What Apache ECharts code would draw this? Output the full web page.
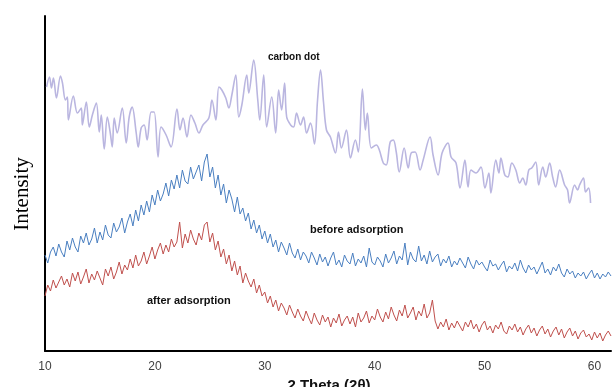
<!DOCTYPE html>
<html>
<head>
<meta charset="utf-8">
<script src="https://cdn.jsdelivr.net/npm/echarts@6/dist/echarts.min.js"></script>
<style>html,body{margin:0;padding:0;background:#fff}#chart{width:614px;height:387px}</style>
</head>
<body>
<div id="chart"></div>
<script>
// x tick labels
const xTicks = [10, 20, 30, 40, 50, 60];

// carbon dot trace (2θ, intensity a.u.)
const carbonTheta = [10.14,10.41,10.59,10.77,11.04,11.41,11.59,11.86,12.04,12.13,12.58,12.95,13.31,13.40,13.76,14.03,14.31,14.67,14.94,15.12,15.39,15.67,15.94,16.12,16.30,16.57,17.03,17.39,17.66,17.93,18.30,18.48,18.75,19.02,19.29,19.66,19.93,20.29,20.56,21.02,21.47,22.01,22.28,22.56,22.92,23.28,23.64,24.01,24.37,24.91,25.19,25.55,25.82,26.09,26.45,26.73,27.00,27.36,27.63,27.91,28.36,28.54,28.99,29.36,29.54,29.90,30.17,30.63,30.99,31.26,31.53,31.80,31.99,32.35,32.62,32.89,33.25,33.53,33.80,34.16,34.52,34.80,35.07,35.34,35.61,35.97,36.43,36.70,36.97,37.43,37.79,38.24,38.51,38.88,39.15,39.33,39.69,40.15,40.42,40.78,41.05,41.41,41.69,41.96,42.23,42.68,43.05,43.32,43.68,44.13,44.41,45.04,45.31,45.77,46.13,46.67,46.95,47.40,47.76,48.21,48.49,48.76,49.21,49.67,50.03,50.39,50.57,51.02,51.30,51.48,51.84,52.11,52.48,52.84,53.20,53.47,53.74,54.02,54.29,54.65,54.92,55.29,55.56,55.92,56.19,56.46,56.83,57.28,57.55,57.73,58.19,58.46,58.64,59.00,59.18,59.46,59.64];
const carbonI = [264,274,263,273,253,275,268,251,254,231,255,238,243,226,249,224,236,248,219,236,202,234,218,204,233,218,243,208,234,244,218,204,223,226,211,239,239,194,224,216,204,242,221,233,214,236,228,218,226,233,251,231,264,261,253,243,256,276,234,246,276,258,291,251,231,276,224,254,218,261,241,268,234,226,224,238,226,234,218,228,207,251,281,249,221,214,198,219,203,221,193,211,199,262,221,238,203,206,201,188,186,209,211,199,179,203,183,198,199,181,191,214,196,176,198,208,194,188,163,191,164,181,178,184,163,178,158,191,178,193,176,174,188,181,168,173,166,181,183,189,166,184,174,188,174,164,181,166,161,148,166,161,166,173,159,163,148];

// before / after adsorption scans, sampled every 0.25°
const twoTheta = [
10.00,10.25,10.50,10.75, 11.00,11.25,11.50,11.75, 12.00,12.25,12.50,12.75, 13.00,13.25,13.50,13.75,
14.00,14.25,14.50,14.75, 15.00,15.25,15.50,15.75, 16.00,16.25,16.50,16.75, 17.00,17.25,17.50,17.75,
18.00,18.25,18.50,18.75, 19.00,19.25,19.50,19.75, 20.00,20.25,20.50,20.75, 21.00,21.25,21.50,21.75,
22.00,22.25,22.50,22.75, 23.00,23.25,23.50,23.75, 24.00,24.25,24.50,24.75, 25.00,25.25,25.50,25.75,
26.00,26.25,26.50,26.75, 27.00,27.25,27.50,27.75, 28.00,28.25,28.50,28.75, 29.00,29.25,29.50,29.75,
30.00,30.25,30.50,30.75, 31.00,31.25,31.50,31.75, 32.00,32.25,32.50,32.75, 33.00,33.25,33.50,33.75,
34.00,34.25,34.50,34.75, 35.00,35.25,35.50,35.75, 36.00,36.25,36.50,36.75, 37.00,37.25,37.50,37.75,
38.00,38.25,38.50,38.75, 39.00,39.25,39.50,39.75, 40.00,40.25,40.50,40.75, 41.00,41.25,41.50,41.75,
42.00,42.25,42.50,42.75, 43.00,43.25,43.50,43.75, 44.00,44.25,44.50,44.75, 45.00,45.25,45.50,45.75,
46.00,46.25,46.50,46.75, 47.00,47.25,47.50,47.75, 48.00,48.25,48.50,48.75, 49.00,49.25,49.50,49.75,
50.00,50.25,50.50,50.75, 51.00,51.25,51.50,51.75, 52.00,52.25,52.50,52.75, 53.00,53.25,53.50,53.75,
54.00,54.25,54.50,54.75, 55.00,55.25,55.50,55.75, 56.00,56.25,56.50,56.75, 57.00,57.25,57.50,57.75,
58.00,58.25,58.50,58.75, 59.00,59.25,59.50,59.75, 60.00,60.25,60.50,60.75, 61.00,61.25,61.50];

const beforeI = [
96,88,99,104, 95,107,99,94, 110,101,113,104, 99,115,108,118,
106,112,123,108, 119,111,126,116, 113,128,119,124, 133,118,129,137,
125,141,130,146, 136,150,139,156, 146,161,150,157, 168,155,171,162,
176,163,181,170, 167,184,172,179, 186,170,189,197, 174,184,163,176,
156,167,148,161, 152,139,154,137, 143,130,138,122, 131,118,126,112,
120,108,117,104, 111,99,109,103, 96,108,98,93, 102,91,99,95,
88,99,93,86, 97,89,94,85, 93,99,86,91, 84,96,90,87,
98,85,92,88, 95,84,103,89, 86,94,90,84, 97,88,93,100,
87,95,91,108, 86,99,92,89, 105,90,96,87, 100,89,94,97,
85,92,88,95, 84,90,86,93, 88,83,94,87, 82,91,86,89,
84,80,91,85, 87,81,86,90, 79,85,82,88, 80,91,83,78,
86,81,84,77, 83,89,78,82, 76,84,80,87, 78,74,82,77,
80,73,78,75, 79,72,77,81, 73,78,72,77, 74,79,75];

const afterI = [
55,66,60,71, 63,69,75,66, 72,64,78,70, 79,67,74,82,
68,77,71,80, 73,66,82,75, 84,72,79,89, 77,86,81,92,
83,96,85,90, 99,87,95,104, 92,101,108,97, 106,99,112,104,
109,129,103,117, 108,121,112,106, 118,111,126,129, 109,118,101,110,
94,102,87,96, 80,90,76,85, 68,78,70,64, 72,58,66,55,
59,48,55,44, 51,40,48,43, 36,46,39,33, 42,35,30,40,
33,27,38,31, 26,36,29,34, 24,33,28,37, 25,31,35,27,
34,24,38,29, 33,40,28,35, 31,42,34,29, 39,32,44,36,
30,41,35,46, 33,38,44,31, 40,35,47,33, 38,51,30,22,
29,24,32,21, 28,23,30,25, 20,29,24,31, 22,27,19,26,
30,21,25,18, 26,22,29,20, 17,25,21,27, 19,24,16,22,
26,18,23,15, 21,25,17,22, 14,20,24,16, 22,13,19,23,
15,20,12,18, 21,14,17,11, 19,13,18,10, 16,20,15];

function pairs(xs, ys) {
  const out = [];
  const n = Math.min(xs.length, ys.length);
  for (let i = 0; i < n; i++) out.push([xs[i], ys[i]]);
  return out;
}

const chart = echarts.init(document.getElementById('chart'), null, {renderer: 'canvas'});
chart.setOption({
  animation: false,
  backgroundColor: '#ffffff',
  grid: {left: 45, right: 0, top: 16, bottom: 36},
  xAxis: {
    type: 'value', min: 10, max: 61.5, interval: 10,
    axisLine: {show: true, lineStyle: {color: '#000', width: 2}},
    axisTick: {show: false},
    splitLine: {show: false},
    axisLabel: {
      color: '#404040', fontSize: 12, margin: 10, fontFamily: 'Liberation Sans',
      formatter: v => (xTicks.indexOf(v) >= 0 ? String(v) : '')
    }
  },
  yAxis: {
    type: 'value', min: 0, max: 335,
    axisLine: {show: true, lineStyle: {color: '#000', width: 2}},
    axisTick: {show: false},
    axisLabel: {show: false},
    splitLine: {show: false}
  },
  series: [
    {
      name: 'carbon dot', type: 'line', data: pairs(carbonTheta, carbonI),
      showSymbol: false, smooth: 0.35,
      lineStyle: {color: '#bab6e0', width: 1.6}
    },
    {
      name: 'before adsorption', type: 'line', data: pairs(twoTheta, beforeI),
      showSymbol: false,
      lineStyle: {color: '#4a7fc1', width: 1}
    },
    {
      name: 'after adsorption', type: 'line', data: pairs(twoTheta, afterI),
      showSymbol: false,
      lineStyle: {color: '#c0504d', width: 1}
    }
  ],
  graphic: [
    {type: 'text', left: 268, top: 52, style: {text: 'carbon dot', font: 'bold 10px "Liberation Sans"', fill: '#111'}},
    {type: 'text', left: 310, top: 224, style: {text: 'before adsorption', font: 'bold 11px "Liberation Sans"', fill: '#111'}},
    {type: 'text', left: 147, top: 295, style: {text: 'after adsorption', font: 'bold 11px "Liberation Sans"', fill: '#111'}},
    {type: 'text', x: 22, y: 194, rotation: Math.PI / 2,
      style: {text: 'Intensity', font: '21px "Liberation Serif"', fill: '#000', textAlign: 'center', textVerticalAlign: 'middle'}},
    {type: 'text', x: 329, y: 378,
      style: {text: '2 Theta (2θ)', font: 'bold 15px "Liberation Sans"', fill: '#111', textAlign: 'center', textVerticalAlign: 'top'}}
  ]
});
</script>
</body>
</html>
